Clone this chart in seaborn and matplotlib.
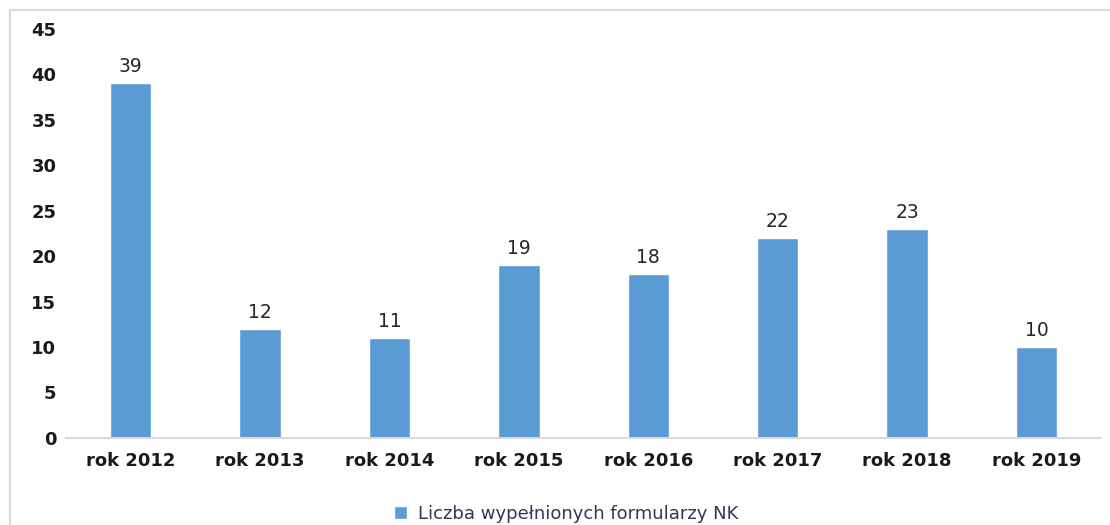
import seaborn as sns
import pandas as pd
import matplotlib
matplotlib.use("Agg")
import matplotlib.pyplot as plt
from matplotlib.patches import Rectangle

# dane
lata = ["rok 2012", "rok 2013", "rok 2014", "rok 2015",
        "rok 2016", "rok 2017", "rok 2018", "rok 2019"]
liczba = [39, 12, 11, 19, 18, 22, 23, 10]
seria = "Liczba wypełnionych formularzy NK"

data = pd.DataFrame({"rok": lata, "liczba": liczba, "seria": seria})

sns.set_style("white")
plt.rcParams['font.family'] = ['DejaVu Sans']

fig = plt.figure(figsize=(11.1, 5.25), dpi=100)
ax = fig.add_axes([0.0595, 0.166, 0.9325, 0.779])

bar_plot = sns.barplot(data=data, x="rok", y="liczba", hue="seria",
                       palette=["#5B9BD5"], width=0.32, ax=ax, saturation=1)

# etykiety nad słupkami
for c in ax.containers:
    ax.bar_label(c, labels=[str(v) for v in liczba], padding=5,
                 fontsize=13.5, color="#262626")

ax.set_ylim(0, 45)
ax.set_xlim(-0.5, 7.5)
ax.set_yticks(range(0, 46, 5))
ax.set_xlabel("")
ax.set_ylabel("")
for s in ["top", "right", "left"]:
    ax.spines[s].set_visible(False)
ax.spines["bottom"].set_color("#d9d9d9")
ax.spines["bottom"].set_linewidth(1.5)
ax.tick_params(axis="both", length=0, labelsize=13, colors="#1a1a1a")
ax.tick_params(axis="x", pad=10)
ax.tick_params(axis="y", pad=7)
for t in ax.get_xticklabels() + ax.get_yticklabels():
    t.set_fontweight("bold")

leg = ax.legend(loc="center", bbox_to_anchor=(0.483, -0.185), frameon=False,
                fontsize=13, handlelength=0.7, handleheight=0.7, handletextpad=0.6)
for t in leg.get_texts():
    t.set_color("#403152")

# ramka wykresu
fig.patches.append(Rectangle((10 / 1110, -0.1), 1.2, 1 - 10 / 525 + 0.1,
                             transform=fig.transFigure, fill=False,
                             edgecolor="#d9d9d9", linewidth=1.5))

fig.savefig("out.png", dpi=100)
